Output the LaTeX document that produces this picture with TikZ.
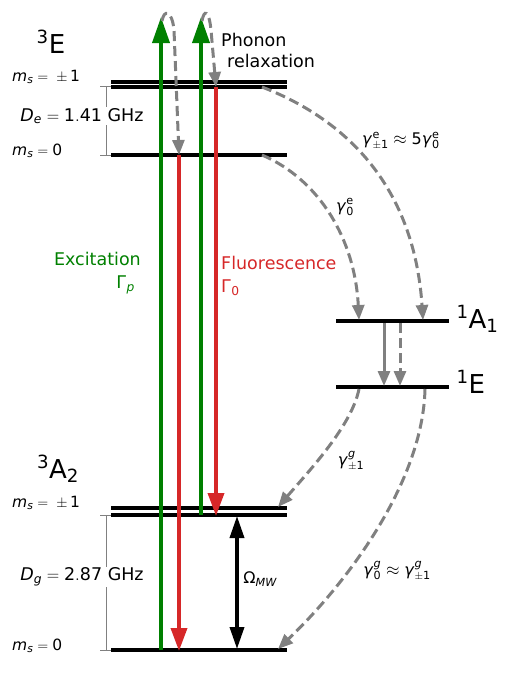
\documentclass[tikz,border=0pt]{standalone}
\usepackage{mathspec}
\setmainfont{DejaVu Sans}
\setmathsfont(Digits,Latin)[Uppercase=Italic,Lowercase=Italic]{DejaVu Sans}
\setmathsfont(Greek)[Uppercase=Regular,Lowercase=Italic]{DejaVu Sans}
\setmathrm{DejaVu Sans}
\usepackage{tikz}
\usetikzlibrary{arrows.meta,positioning}

\definecolor{pumpgreen}{HTML}{008000}
\definecolor{fluored}{HTML}{D62728}

\begin{document}
\begin{tikzpicture}[x=1pt,y=-1pt,
      level/.style={line width=3.8pt},
      gap/.style={draw=gray,line width=1pt},
      pump/.style={pumpgreen,line width=3.6pt,-{Triangle[width=17pt,length=26pt]}},
      fluo/.style={fluored,line width=3.6pt,-{Triangle[width=16pt,length=23pt]}},
      decay/.style={gray,line width=3pt,dash pattern=on 10pt off 5pt,-{Triangle[width=12pt,length=15pt]}},
      big/.style={font=\fontsize{26}{30}\selectfont},
      txt/.style={font=\fontsize{17.5}{21}\selectfont},
      ms/.style={font=\fontsize{15.5}{18}\selectfont,anchor=west,inner sep=0pt},
      rate/.style={font=\fontsize{16}{19}\selectfont}
    ]
    \useasboundingbox (0,0) rectangle (523,673);

    % levels
    \draw[level] (111,82) -- (287,82);
    \draw[level] (111,87) -- (287,87);
    \draw[level] (111,155) -- (287,155);
    \draw[level] (336,321) -- (449,321);
    \draw[level] (336,387) -- (449,387);
    \draw[level] (111,508) -- (287,508);
    \draw[level] (111,515) -- (287,515);
    \draw[level] (111,650) -- (287,650);

    % splittings
    \draw[gap] (100,86) -- (111,86);
    \draw[gap] (100,155) -- (111,155);
    \draw[gap] (106,86) -- (106,155);
    \draw[gap] (100,515) -- (111,515);
    \draw[gap] (100,650) -- (111,650);
    \draw[gap] (106,515) -- (106,650);
    \node[txt,fill=white,inner sep=1pt] (De) at (82,116) {$D_e = 1.41$ GHz};
    \node[txt,fill=white,inner sep=1pt] (Dg) at (82,577) {$D_g = 2.87$ GHz};

    % level labels
    \node[big] (tE) at (51,42) {$^3$E};
    \node[big] (tA2) at (58,469) {$^3$A$_2$};
    \node[big,anchor=west] (sA1) at (453,319) {$^1$A$_1$};
    \node[big,anchor=west] (sE) at (453,382) {$^1$E};
    \node[ms] (msEp) at (12,77) {$m_s =\;\pm\,1$};
    \node[ms] (msE0) at (12,151) {$m_s = 0$};
    \node[ms] (msGp) at (12,503) {$m_s =\;\pm\,1$};
    \node[ms] (msG0) at (12,646) {$m_s = 0$};

    % end points
    \coordinate (exA0) at (161,650);
    \coordinate (exA1) at (161,17);
    \coordinate (exB0) at (201,515);
    \coordinate (exB1) at (201,17);
    \coordinate (flA0) at (179,155);
    \coordinate (flA1) at (179,651);
    \coordinate (flB0) at (216,87);
    \coordinate (flB1) at (216,516);
    \coordinate (phA) at (174,30);
    \coordinate (phB) at (211,30);
    \coordinate (iscP) at (262,87);
    \coordinate (iscPe) at (423,320);
    \coordinate (iscZ) at (262,155);
    \coordinate (iscZe) at (359,320);
    \coordinate (sgA) at (384,323);
    \coordinate (sgAe) at (384,386);
    \coordinate (sgB) at (400,323);
    \coordinate (sgBe) at (400,386);
    \coordinate (relP) at (359,389);
    \coordinate (relPe) at (278,507);
    \coordinate (relZ) at (425,389);
    \coordinate (relZe) at (278,649);
    \coordinate (mwT) at (237,516);
    \coordinate (mwB) at (237,649);

    % optical
    \draw[pump] (exA0) -- (exA1);
    \draw[pump] (exB0) -- (exB1);
    \draw[fluo] (flA0) -- (flA1);
    \draw[fluo] (flB0) -- (flB1);

    % phonon relaxation
    \draw[decay] (162,21) .. controls (164,9) and (172,10) .. (phA) -- (flA0);
    \draw[decay] (202,21) .. controls (204,9) and (209,10) .. (phB) -- (flB0);

    % intersystem crossing
    \draw[decay] (iscP) .. controls (360,125) and (415,200) .. (iscPe);
    \draw[decay] (iscZ) .. controls (320,180) and (355,240) .. (iscZe);
    \draw[gray,line width=3pt,-{Triangle[width=12pt,length=15pt]}] (sgA) -- (sgAe);
    \draw[decay] (sgB) -- (sgBe);
    \draw[decay] (relP) .. controls (352,425) and (310,470) .. (relPe);
    \draw[decay] (relZ) .. controls (423,480) and (350,580) .. (relZe);

    % microwave
    \draw[line width=3.6pt,{Triangle[width=14pt,length=22pt]}-{Triangle[width=14pt,length=22pt]}] (mwT) -- (mwB);

    % labels
    \node[txt,anchor=north west,align=left,inner sep=0pt] (phon) at (221,33) {Phonon\\\hspace*{6pt}relaxation};
    \node[txt,pumpgreen,anchor=east,align=right,inner sep=0pt] (exc) at (141,273) {Excitation\\[2pt]$\Gamma_p$\hspace*{6pt}};
    \node[txt,fluored,anchor=west,align=left,inner sep=0pt] (flu) at (221,276) {Fluorescence\\[2pt]$\Gamma_0$};
    \node[rate] (gEp) at (401,141) {$\gamma^{\mathrm{e}}_{\pm1} \approx 5\gamma^{\mathrm{e}}_0$};
    \node[rate] (gE0) at (345,207) {$\gamma^{\mathrm{e}}_0$};
    \node[rate] (gGp) at (351,461) {$\gamma^{g}_{\pm1}$};
    \node[rate] (gG0) at (397,571) {$\gamma^{g}_0 \approx \gamma^{g}_{\pm1}$};
    \node[rate,anchor=west,inner sep=0pt] (omw) at (243,579) {$\Omega_{MW}$};
\end{tikzpicture}
\end{document}
